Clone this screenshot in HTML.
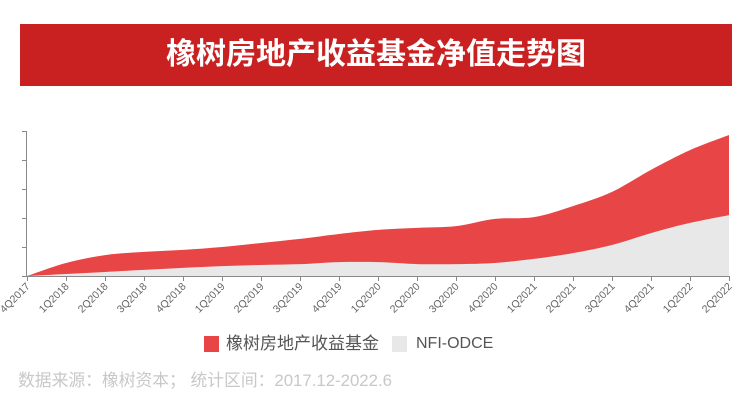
<!DOCTYPE html>
<html><head><meta charset="utf-8"><style>
body{margin:0;width:750px;height:416px;background:#fff;overflow:hidden;font-family:"Liberation Sans","Noto Sans CJK SC",sans-serif}
#banner{position:absolute;left:20px;top:24px;width:712px;height:62px;background:#c92121;color:#fff;font-weight:bold;font-size:30px;line-height:62px;text-align:center;font-family:"Liberation Sans","Noto Sans CJK SC",sans-serif}
svg{position:absolute;left:0;top:0}
.lg{position:absolute;top:333px;font-size:17px;color:#555;line-height:22px}
.sw{position:absolute;top:336px;width:15px;height:16px}
#foot{position:absolute;left:18px;top:370px;font-size:16.8px;color:#c8c8c8;line-height:22px}
</style></head><body>
<div id="banner">橡树房地产收益基金净值走势图</div>
<svg id="chart" width="750" height="416"></svg>
<div class="sw" style="left:204px;background:#e84646"></div>
<div class="lg" style="left:226px">橡树房地产收益基金</div>
<div class="sw" style="left:392px;background:#e8e8e8"></div>
<div class="lg" style="left:416px;font-size:16px">NFI-ODCE</div>
<div id="foot">数据来源：橡树资本；  统计区间：2017.12-2022.6</div>
<script>
const categories=["4Q2017","1Q2018","2Q2018","3Q2018","4Q2018","1Q2019","2Q2019","3Q2019","4Q2019","1Q2020","2Q2020","3Q2020","4Q2020","1Q2021","2Q2021","3Q2021","4Q2021","1Q2022","2Q2022"];
const fundValues=[0,0.45,0.72,0.83,0.90,1.0,1.14,1.28,1.45,1.59,1.66,1.72,1.97,2.03,2.41,2.90,3.66,4.34,4.86];
const nfiValues=[0,0.07,0.14,0.21,0.28,0.34,0.38,0.41,0.48,0.48,0.41,0.41,0.45,0.59,0.79,1.07,1.48,1.83,2.10];
const yTicks=[0,1,2,3,4,5];
const NS="http://www.w3.org/2000/svg";
const svg=document.getElementById('chart');
const x0=27,x1=729,y0=276,y1=131,yMax=5;
const xs=i=>x0+(x1-x0)*i/(categories.length-1);
const ys=v=>y0-(y0-y1)*v/yMax;
function smooth(vals){
  const p=vals.map((v,i)=>[xs(i),ys(v)]);
  let d=`M${p[0][0]},${p[0][1]}`;
  for(let i=0;i<p.length-1;i++){
    const a=p[Math.max(i-1,0)],b=p[i],c=p[i+1],e=p[Math.min(i+2,p.length-1)];
    const t=0.16;
    d+=` C${b[0]+(c[0]-a[0])*t},${b[1]+(c[1]-a[1])*t} ${c[0]-(e[0]-b[0])*t},${c[1]-(e[1]-b[1])*t} ${c[0]},${c[1]}`;
  }
  return d;
}
function area(vals,fill,name){
  const p=document.createElementNS(NS,'path');
  p.setAttribute('d',smooth(vals)+` L${xs(vals.length-1)},${y0} L${x0},${y0} Z`);
  p.setAttribute('fill',fill);
  
  
  svg.appendChild(p);
}
area(fundValues,'#e84646','area-fund');
area(nfiValues,'#e8e8e8','area-nfi');
function line(xa,ya,xb,yb,name){
  const l=document.createElementNS(NS,'line');
  l.setAttribute('x1',xa);l.setAttribute('y1',ya);l.setAttribute('x2',xb);l.setAttribute('y2',yb);
  l.setAttribute('stroke','#888');l.setAttribute('stroke-width','1');
  
  
  svg.appendChild(l);
}
line(26.5,y1,26.5,y0+0.5,'y-axis');
line(26,y0+0.5,x1+0.5,y0+0.5,'x-axis');
yTicks.forEach(v=>line(22,Math.round(ys(v))+0.5,26.5,Math.round(ys(v))+0.5,'y-tick'));
categories.forEach((c,i)=>{
  const x=Math.round(xs(i))+0.5;
  line(x,y0,x,y0+5,'x-tick');
  const t=document.createElementNS(NS,'text');
  t.setAttribute('x',x+3);t.setAttribute('y',y0+11);
  t.setAttribute('text-anchor','end');
  t.setAttribute('font-size','10.5');
  t.setAttribute('fill','#666');
  t.setAttribute('font-family','Liberation Sans, sans-serif');
  t.setAttribute('transform',`rotate(-45 ${x+3} ${y0+11})`);
  t.textContent=c;
  
  
  svg.appendChild(t);
});
</script>
</body></html>
